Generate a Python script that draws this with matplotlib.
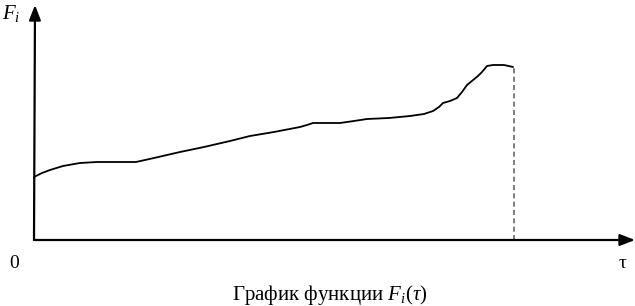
import matplotlib
matplotlib.use("Agg")
import matplotlib.pyplot as plt

plt.rcParams['mathtext.fontset'] = 'custom'
plt.rcParams['mathtext.rm'] = 'Liberation Serif'
plt.rcParams['mathtext.it'] = 'Liberation Serif:italic'
plt.rcParams['font.family'] = ['Liberation Serif', 'DejaVu Serif']

# curve F_i(tau), arbitrary units
tau = [0, 8, 16, 29, 46, 63, 85, 102, 120, 146, 170, 196, 216, 240, 266, 273, 279, 292, 306,
       320, 333, 355, 376, 390, 399, 405, 409, 416, 423, 428, 433, 444, 448, 453, 459, 470, 479]
F = [63, 67, 70, 74, 77, 78, 78, 78, 82, 88, 93, 99, 104, 108, 113, 115, 117, 117, 117,
     119, 121, 122, 124, 126, 129, 133, 137, 139, 142, 148, 155, 164, 168, 174, 175, 175, 173]
tau_end = 480
F_end = 173

fig = plt.figure(figsize=(6.35, 3.06), dpi=100)
ax = fig.add_axes([0, 0, 1, 1])
ax.set_xlim(-34, 601)
ax.set_ylim(-66, 240)
ax.axis('off')

ax.plot(tau, F, color='black', lw=1.3, solid_capstyle='round', solid_joinstyle='round')
ax.plot([tau_end, tau_end], [0, F_end], color='#666666', lw=1.2, ls=(0, (3, 2)))

ap = dict(arrowstyle='-|>,head_length=0.9,head_width=0.35', color='black', lw=1.6,
          shrinkA=0, shrinkB=0)
ax.annotate('', xy=(601, 0), xytext=(0, 0), arrowprops=ap)
ax.annotate('', xy=(1, 235), xytext=(0, 0), arrowprops=ap)

ax.text(-32, 226, r'$F_i$', fontsize=15, ha='left', va='center')
ax.text(-20, -23, '0', fontsize=14, ha='center', va='center')
ax.text(589, -23, 'τ', fontsize=14, ha='center', va='center')
ax.text(296, -55, r'График функции $F_i$($\tau$)', fontsize=15, ha='center', va='center')

fig.savefig('out.png', dpi=100)
